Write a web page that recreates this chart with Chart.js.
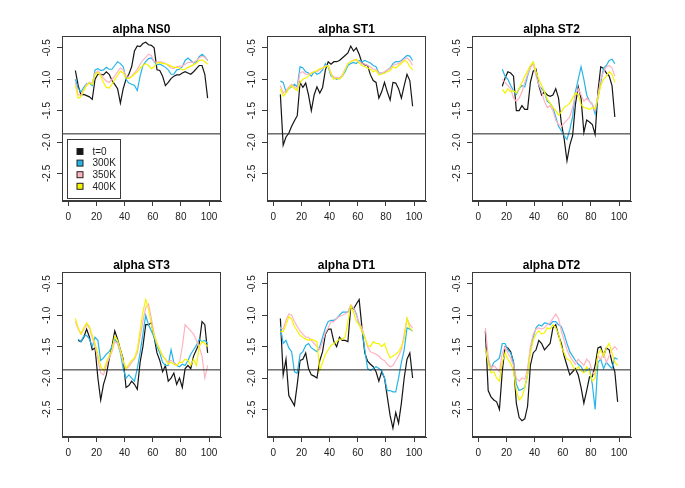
<!DOCTYPE html>
<html>
<head>
<meta charset="utf-8">
<script src="https://cdn.jsdelivr.net/npm/chart.js@4.4.0/dist/chart.umd.min.js"></script>
<style>
  html, body { margin: 0; padding: 0; background: #fff; }
  #wrap { position: relative; width: 685px; height: 488px; overflow: hidden; }
  #wrap canvas { position: absolute; }
</style>
</head>
<body>
<div id="wrap"></div>
<script>
// x positions shared by every series (window centres)
const X = [5, 7, 9, 11, 13, 15, 17, 19, 21, 23, 25, 27, 29, 31, 33, 35, 37, 39, 41, 43, 45, 47, 49, 51,
           53, 55, 57, 59, 61, 63, 65, 67, 69, 71, 73, 75, 77, 79, 81, 83, 85, 87, 89, 91, 93, 95, 97, 99];

const SERIES = ['t=0', '300K', '350K', '400K'];
const TITLES = ['alpha NS0', 'alpha ST1', 'alpha ST2', 'alpha ST3', 'alpha DT1', 'alpha DT2'];
const X_TICKS = [0, 20, 40, 60, 80, 100];
const Y_TICKS = [-2.5, -2.0, -1.5, -1.0, -0.5];
const CUTOFF = -1.87;

// alpha NS0
const NS0_T0 = [-0.86, -1.1, -1.25, -1.24, -1.26, -1.28, -1.32, -1.0, -0.92, -0.92, -0.93, -0.88, -0.92, -1.02, -1.08, -1.15,
  -1.38, -1.15, -1.0, -0.92, -0.8, -0.55, -0.47, -0.48, -0.43, -0.41, -0.45, -0.46, -0.5, -0.85, -0.86, -0.95,
  -1.1, -1.05, -0.99, -0.95, -0.93, -0.93, -0.9, -0.88, -0.9, -0.92, -0.88, -0.83, -0.78, -0.78, -0.92, -1.3];
const NS0_300 = [-1.0, -1.15, -1.2, -1.13, -1.07, -1.06, -1.1, -0.85, -0.83, -0.86, -0.85, -0.81, -0.84, -0.84, -0.78, -0.72,
  -0.75, -0.8, -1.0, -1.06, -1.08, -1.1, -1.18, -0.95, -0.78, -0.72, -0.67, -0.66, -0.72, -0.77, -0.76, -0.78,
  -0.81, -0.85, -0.92, -0.92, -0.85, -0.84, -0.8, -0.7, -0.66, -0.7, -0.74, -0.72, -0.64, -0.6, -0.64, -0.7];
const NS0_350 = [-1.05, -1.25, -1.25, -1.16, -1.08, -1.05, -1.06, -0.9, -0.87, -0.92, -0.98, -1.03, -1.05, -1.0, -0.95, -0.88,
  -0.82, -0.85, -0.95, -0.98, -0.95, -0.9, -0.84, -0.76, -0.7, -0.65, -0.6, -0.62, -0.72, -0.73, -0.72, -0.73,
  -0.75, -0.78, -0.82, -0.83, -0.8, -0.79, -0.79, -0.76, -0.73, -0.73, -0.73, -0.7, -0.66, -0.63, -0.65, -0.7];
const NS0_400 = [-1.1, -1.3, -1.28, -1.18, -1.1, -1.06, -1.08, -0.92, -0.89, -0.95, -1.05, -1.13, -1.14, -1.08, -1.0, -0.94,
  -0.87, -0.9, -0.98, -0.99, -0.96, -0.92, -0.88, -0.82, -0.78, -0.75, -0.78, -0.83, -0.8, -0.74, -0.73, -0.75,
  -0.75, -0.77, -0.79, -0.81, -0.81, -0.82, -0.85, -0.84, -0.81, -0.79, -0.77, -0.74, -0.7, -0.69, -0.72, -0.76];

// alpha ST1
const ST1_T0 = [-1.24, -2.05, -1.92, -1.86, -1.75, -1.66, -1.58, -1.05, -1.13, -1.06, -1.25, -1.5, -1.25, -1.12, -1.22, -1.13,
  -0.85, -0.72, -0.76, -0.72, -0.72, -0.7, -0.66, -0.62, -0.58, -0.47, -0.55, -0.5, -0.6, -0.74, -0.77, -0.78,
  -0.93, -1.02, -1.05, -1.3, -1.2, -1.05, -1.2, -1.33, -1.05, -1.06, -1.15, -1.3, -1.1, -0.92, -1.02, -1.43];
const ST1_300 = [-1.03, -1.05, -1.2, -1.15, -1.12, -1.08, -1.12, -0.8, -0.82, -0.88, -0.9, -0.95, -0.88, -0.92, -0.9, -0.85,
  -0.75, -0.8, -0.95, -0.97, -1.0, -0.98, -0.95, -0.88, -0.78, -0.75, -0.73, -0.75, -0.7, -0.72, -0.7, -0.72,
  -0.74, -0.78, -0.8, -0.9, -0.9, -0.9, -0.85, -0.82, -0.75, -0.72, -0.72, -0.7, -0.66, -0.62, -0.63, -0.7];
const ST1_350 = [-1.1, -1.22, -1.18, -1.12, -1.08, -1.12, -1.15, -0.9, -0.88, -0.92, -0.92, -0.9, -0.88, -0.88, -0.85, -0.82,
  -0.78, -0.78, -0.9, -0.97, -0.97, -0.98, -0.93, -0.84, -0.75, -0.72, -0.69, -0.7, -0.72, -0.75, -0.76, -0.78,
  -0.8, -0.84, -0.84, -0.9, -0.9, -0.88, -0.85, -0.83, -0.78, -0.76, -0.75, -0.72, -0.68, -0.66, -0.7, -0.78];
const ST1_400 = [-1.15, -1.27, -1.22, -1.15, -1.1, -1.15, -1.18, -1.05, -1.0, -0.98, -0.95, -0.9, -0.88, -0.86, -0.83, -0.82,
  -0.8, -0.78, -0.92, -1.0, -0.98, -1.0, -0.95, -0.85, -0.75, -0.72, -0.7, -0.68, -0.74, -0.78, -0.8, -0.82,
  -0.84, -0.88, -0.86, -0.93, -0.92, -0.9, -0.88, -0.86, -0.8, -0.82, -0.78, -0.75, -0.7, -0.72, -0.8, -0.85];

// alpha ST2
const ST2_T0 = [null, null, null, null, null, null, -1.11, -0.98, -0.88, -0.9, -0.95, -1.5, -1.5, -1.42, -1.48, -1.48,
  -1.05, -0.87, -0.84, -1.1, -1.25, -1.2, -1.25, -1.27, -1.25, -1.15, -1.3, -1.7, -1.95, -2.3, -2.05, -1.9,
  -1.4, -1.12, -1.3, -1.85, -1.65, -1.68, -1.72, -1.88, -1.2, -0.8, -0.83, -0.9, -0.95, -1.1, -1.6, null];
const ST2_300 = [null, null, null, null, null, null, -0.84, -0.95, -1.0, -1.1, -1.18, -1.24, -1.15, -1.1, -1.12, -0.95,
  -0.8, -0.73, -0.9, -1.1, -1.15, -1.2, -1.35, -1.38, -1.45, -1.6, -1.75, -1.82, -1.9, -1.96, -1.8, -1.6,
  -1.2, -1.0, -0.8, -1.0, -1.25, -1.35, -1.4, -1.55, -1.3, -1.05, -0.82, -0.78, -0.7, -0.68, -0.75, null];
const ST2_350 = [null, null, null, null, null, null, -1.0, -1.05, -1.1, -1.15, -1.3, -1.35, -1.3, -1.2, -1.05, -0.92,
  -0.82, -0.75, -0.95, -1.08, -1.2, -1.35, -1.45, -1.42, -1.5, -1.65, -1.72, -1.75, -1.7, -1.65, -1.6, -1.45,
  -1.25, -1.15, -1.25, -1.35, -1.3, -1.35, -1.4, -1.5, -1.25, -1.0, -0.88, -0.8, -0.78, -0.82, -0.95, null];
const ST2_400 = [null, null, null, null, null, null, -1.16, -1.22, -1.15, -1.2, -1.18, -1.22, -1.15, -1.05, -0.95, -0.87,
  -0.78, -0.72, -0.88, -1.0, -1.1, -1.2, -1.32, -1.38, -1.45, -1.5, -1.57, -1.52, -1.45, -1.42, -1.38, -1.3,
  -1.22, -1.24, -1.4, -1.45, -1.46, -1.48, -1.45, -1.47, -1.3, -1.1, -1.0, -0.95, -0.88, -0.92, -1.05, null];

// alpha ST3
const ST3_T0 = [null, -1.4, -1.42, -1.35, -1.22, -1.35, -1.55, -1.52, -2.0, -2.35, -2.1, -1.95, -1.7, -1.5, -1.25, -1.38,
  -1.55, -1.7, -2.15, -2.12, -2.05, -2.1, -2.18, -1.75, -1.5, -1.15, -1.15, -1.12, -1.35, -1.6, -1.72, -1.9,
  -1.8, -2.05, -2.0, -1.92, -2.1, -2.0, -2.15, -1.85, -1.8, -1.85, -1.65, -1.55, -1.45, -1.1, -1.15, -1.6];
const ST3_300 = [null, -1.38, -1.42, -1.33, -1.32, -1.38, -1.5, -1.35, -1.4, -1.72, -1.68, -1.62, -1.58, -1.5, -1.38, -1.45,
  -1.6, -1.85, -2.0, -1.95, -2.0, -2.05, -1.85, -1.6, -1.3, -1.0, -1.15, -1.25, -1.35, -1.5, -1.6, -1.75,
  -1.8, -1.8, -1.55, -1.75, -1.8, -1.82, -1.78, -1.8, -1.72, -1.62, -1.55, -1.48, -1.38, -1.42, -1.4, -1.45];
const ST3_350 = [-1.1, -1.22, -1.3, -1.22, -1.15, -1.2, -1.35, -1.5, -1.7, -1.92, -1.95, -1.8, -1.68, -1.58, -1.42, -1.45,
  -1.58, -1.75, -1.85, -1.82, -1.75, -1.7, -1.6, -1.35, -1.1, -0.88, -0.82, -1.05, -1.3, -1.45, -1.55, -1.65,
  -1.7, -1.75, -1.72, -1.75, -1.8, -1.75, -1.5, -1.15, -1.2, -1.25, -1.3, -1.4, -1.5, -1.65, -2.0, -1.8];
const ST3_400 = [-1.05, -1.2, -1.3, -1.2, -1.12, -1.18, -1.32, -1.45, -1.62, -1.82, -1.88, -1.75, -1.65, -1.55, -1.33, -1.4,
  -1.55, -1.72, -1.85, -1.78, -1.72, -1.68, -1.55, -1.25, -0.95, -0.75, -0.9, -1.15, -1.32, -1.45, -1.55, -1.65,
  -1.7, -1.78, -1.75, -1.78, -1.8, -1.75, -1.75, -1.7, -1.72, -1.8, -1.7, -1.8, -1.5, -1.42, -1.45, -1.5];

// alpha DT1
const DT1_T0 = [-1.05, -1.95, -1.7, -2.28, -2.36, -2.44, -2.1, -1.72, -1.7, -1.6, -1.85, -1.95, -1.97, -2.0, -1.72, -1.58,
  -1.3, -1.22, -1.22, -1.42, -1.5, -1.35, -1.4, -1.4, -1.42, -0.88, -0.9, -0.82, -0.75, -1.2, -1.6, -1.73,
  -1.78, -1.82, -1.9, -2.05, -1.9, -2.0, -2.3, -2.6, -2.8, -2.55, -2.72, -2.4, -2.0, -1.7, -1.6, -2.0];
const DT1_300 = [-1.18, -1.45, -1.4, -1.52, -1.58, -1.9, -1.92, -1.62, -1.58, -1.48, -1.45, -1.52, -1.55, -1.58, -1.5, -1.35,
  -1.2, -1.1, -1.08, -1.08, -1.05, -1.0, -0.95, -0.95, -0.95, -0.85, -0.88, -0.98, -1.15, -1.22, -1.55, -1.85,
  -1.88, -1.85, -1.82, -1.85, -1.88, -2.0, -2.2, -2.2, -2.22, -2.22, -2.0, -1.75, -1.55, -1.2, -1.22, -1.25];
const DT1_350 = [-1.2, -1.22, -1.08, -0.98, -1.0, -1.1, -1.18, -1.25, -1.3, -1.35, -1.35, -1.4, -1.45, -1.5, -1.55, -1.42,
  -1.28, -1.2, -1.1, -1.1, -1.05, -1.02, -1.0, -0.98, -0.95, -0.83, -0.88, -1.0, -1.12, -1.2, -1.35, -1.5,
  -1.58, -1.6, -1.62, -1.65, -1.7, -1.72, -1.78, -1.82, -1.8, -1.72, -1.65, -1.55, -1.3, -1.05, -1.15, -1.2];
const DT1_400 = [-1.26, -1.26, -1.15, -1.02, -1.06, -1.18, -1.25, -1.32, -1.35, -1.38, -1.4, -1.38, -1.4, -1.42, -1.88, -1.75,
  -1.62, -1.55, -1.48, -1.45, -1.42, -1.38, -1.38, -1.35, -1.1, -0.85, -0.95, -1.1, -1.15, -1.25, -1.35, -1.48,
  -1.5, -1.42, -1.45, -1.45, -1.5, -1.45, -1.58, -1.68, -1.65, -1.62, -1.58, -1.5, -1.38, -1.05, -1.2, -1.25];

// alpha DT2
const DT2_T0 = [-1.25, -2.2, -2.3, -2.35, -2.38, -2.5, -1.9, -1.5, -1.52, -1.58, -1.75, -2.4, -2.63, -2.68, -2.65, -2.45,
  -1.8, -1.6, -1.55, -1.4, -1.45, -1.55, -1.5, -1.45, -1.2, -1.15, -1.32, -1.45, -1.65, -1.8, -1.95, -1.9,
  -1.85, -1.95, -2.15, -2.4, -2.2, -1.98, -1.98, -1.8, -1.52, -1.5, -1.65, -1.52, -1.55, -1.75, -1.9, -2.38];
const DT2_300 = [-1.53, -1.72, -1.85, -1.75, -1.72, -1.68, -1.45, -1.45, -1.55, -1.6, -1.75, -2.1, -2.2, -2.18, -2.15, -1.95,
  -1.55, -1.35, -1.2, -1.15, -1.17, -1.12, -1.13, -1.15, -1.1, -1.1, -1.15, -1.18, -1.3, -1.45, -1.58, -1.65,
  -1.72, -1.78, -1.82, -1.9, -1.88, -1.85, -2.1, -2.5, -1.75, -1.7, -1.85, -1.75, -1.8, -1.85, -1.68, -1.7];
const DT2_350 = [-1.2, -1.65, -1.85, -1.8, -1.85, -1.9, -1.6, -1.5, -1.6, -1.68, -1.8, -2.0, -2.05, -2.0, -2.02, -1.85,
  -1.5, -1.3, -1.22, -1.2, -1.22, -1.2, -1.15, -1.12, -1.05, -0.98, -1.05, -1.25, -1.4, -1.55, -1.65, -1.72,
  -1.78, -1.7, -1.75, -1.8, -1.7, -1.75, -1.9, -1.95, -1.65, -1.7, -1.6, -1.75, -1.65, -1.55, -1.5, -1.55];
const DT2_400 = [-1.53, -1.75, -1.92, -1.9, -2.0, -2.05, -1.75, -1.6, -1.7, -1.77, -1.88, -2.2, -2.35, -2.3, -2.15, -1.95,
  -1.6, -1.4, -1.3, -1.25, -1.3, -1.28, -1.2, -1.22, -1.15, -1.2, -1.3, -1.5, -1.6, -1.7, -1.72, -1.8,
  -1.88, -1.82, -1.88, -1.92, -1.82, -1.9, -2.05, -2.0, -1.62, -1.55, -1.65, -1.52, -1.45, -1.6, -1.75, -1.8];

const PANEL_DATA = [
  [NS0_T0, NS0_300, NS0_350, NS0_400],
  [ST1_T0, ST1_300, ST1_350, ST1_400],
  [ST2_T0, ST2_300, ST2_350, ST2_400],
  [ST3_T0, ST3_300, ST3_350, ST3_400],
  [DT1_T0, DT1_300, DT1_350, DT1_400],
  [DT2_T0, DT2_300, DT2_350, DT2_400]
];

// styling / layout
const COLORS = ['#151515', '#27b4e8', '#ffb3c0', '#f4f400'];
const X_MIN = -4.5, X_MAX = 108.5;
const Y_MIN = -2.94, Y_MAX = -0.31;
const BOX_LEFT = [62, 267, 472];
const BOX_TOP = [36, 272];
const BOX_W = 159, BOX_H = 165;
const PAD_L = 40, PAD_T = 36, CW = 205, CH = 240;
const AXIS_COL = '#3a3a3a';

Chart.defaults.font.family = '"Liberation Sans", Arial, Helvetica, sans-serif';
Chart.defaults.color = '#222';

// box round the plot region and R-style rotated y labels
const frame = {
  id: 'frame',
  afterDraw(chart) {
    const { ctx, chartArea: a, scales } = chart;
    ctx.save();
    ctx.strokeStyle = AXIS_COL;
    ctx.lineWidth = 1;
    ctx.strokeRect(Math.round(a.left) + 0.5, Math.round(a.top) + 0.5,
      Math.round(a.right - a.left) - 1, Math.round(a.bottom - a.top) - 1);
    ctx.fillStyle = '#222';
    ctx.font = '10px "Liberation Sans", Arial, sans-serif';
    ctx.textAlign = 'center';
    ctx.textBaseline = 'middle';
    Y_TICKS.forEach(v => {
      const y = scales.y.getPixelForValue(v);
      ctx.save();
      ctx.translate(a.left - 14.5, y);
      ctx.rotate(-Math.PI / 2);
      ctx.fillText(v.toFixed(1), 0, 0);
      ctx.restore();
    });
    ctx.restore();
  }
};

// legend box in the first panel
const boxLegend = {
  id: 'boxLegend',
  afterDraw(chart) {
    if (!chart.options.plugins.boxLegend.show) return;
    const { ctx, chartArea: a } = chart;
    const x0 = a.left + 5.5, y0 = a.top + 103.5;
    ctx.save();
    ctx.strokeStyle = AXIS_COL;
    ctx.lineWidth = 1;
    ctx.strokeRect(x0, y0, 53, 59);
    ctx.font = '10px "Liberation Sans", Arial, sans-serif';
    ctx.textBaseline = 'middle';
    ctx.textAlign = 'left';
    SERIES.forEach((s, i) => {
      const cy = y0 + 12 + i * 11.6;
      ctx.fillStyle = COLORS[i];
      ctx.fillRect(x0 + 9.5, cy - 3, 6, 6);
      ctx.strokeStyle = '#222';
      ctx.strokeRect(x0 + 9.5, cy - 3, 6, 6);
      ctx.fillStyle = '#222';
      ctx.fillText(s, x0 + 25, cy + 0.5);
    });
    ctx.restore();
  }
};

const wrap = document.getElementById('wrap');

TITLES.forEach((title, p) => {
  const col = p % 3, row = Math.floor(p / 3);
  const canvas = document.createElement('canvas');
  canvas.width = CW;
  canvas.height = CH;
  canvas.style.left = (BOX_LEFT[col] - PAD_L) + 'px';
  canvas.style.top = (BOX_TOP[row] - PAD_T) + 'px';
  wrap.appendChild(canvas);

  const datasets = PANEL_DATA[p].map((vals, i) => ({
    label: SERIES[i],
    data: X.map((x, k) => ({ x, y: vals[k] })),
    borderColor: COLORS[i],
    borderWidth: 1.2,
    pointRadius: 0,
    tension: 0,
    spanGaps: false,
    order: 4 - i
  }));
  datasets.push({
    label: 'cutoff',
    data: [{ x: X_MIN, y: CUTOFF }, { x: X_MAX, y: CUTOFF }],
    borderColor: '#222',
    borderWidth: 1,
    pointRadius: 0,
    order: 0
  });

  new Chart(canvas, {
    type: 'line',
    data: { datasets },
    options: {
      responsive: false,
      animation: false,
      devicePixelRatio: 1,
      layout: { padding: { top: 24, left: 0, right: CW - PAD_L - BOX_W, bottom: 0 } },
      plugins: {
        legend: { display: false },
        tooltip: { enabled: false },
        title: {
          display: true,
          fullSize: false,
          text: title,
          color: '#000',
          font: { size: 12, weight: 'bold', lineHeight: '12px' },
          padding: 0
        },
        boxLegend: { show: p === 0 }
      },
      scales: {
        x: {
          type: 'linear',
          min: X_MIN,
          max: X_MAX,
          afterBuildTicks: s => { s.ticks = X_TICKS.map(v => ({ value: v })); },
          afterFit: s => { s.height = CH - PAD_T - BOX_H; },
          ticks: { font: { size: 10 }, color: '#222', padding: 5, maxRotation: 0, autoSkip: false },
          grid: { drawOnChartArea: false, tickLength: 5, color: AXIS_COL },
          border: { color: AXIS_COL }
        },
        y: {
          type: 'linear',
          min: Y_MIN,
          max: Y_MAX,
          afterBuildTicks: s => { s.ticks = Y_TICKS.map(v => ({ value: v })); },
          afterFit: s => { s.width = PAD_L; },
          ticks: { display: false },
          grid: { drawOnChartArea: false, tickLength: 5, color: AXIS_COL },
          border: { color: AXIS_COL }
        }
      }
    },
    plugins: [frame, boxLegend]
  });
});
</script>
</body>
</html>
